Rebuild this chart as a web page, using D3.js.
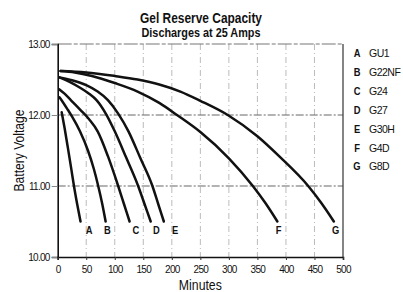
<!DOCTYPE html>
<html>
<head>
<meta charset="utf-8">
<script src="https://cdn.jsdelivr.net/npm/d3@7"></script>
<style>
  body { margin: 0; background: #fff; }
  svg { display: block; }
  text { font-family: "Liberation Sans Narrow", "Arial Narrow", "Liberation Sans", sans-serif; fill: #111; }
</style>
</head>
<body>
<svg id="chart" width="403" height="292"></svg>
<script>
// battery types, A..G
let letters = ["A", "B", "C", "D", "E", "F", "G"];
let models = ["GU1", "G22NF", "G24", "G27", "G30H", "G4D", "G8D"];

// discharge curves [minutes, volts]
let curveA = [[7, 12.04], [12, 11.82], [18, 11.53], [24, 11.23], [28.5, 11.0], [34, 10.75], [40, 10.5]];
let curveB = [[3, 12.25], [10, 12.17], [18, 12.07], [25, 11.98], [39, 11.77], [53, 11.5], [63, 11.25], [71, 11.0], [78, 10.75], [84, 10.5]];
let curveC = [[3, 12.36], [12, 12.3], [23, 12.21], [40, 12.07], [55, 11.94], [70, 11.77], [88, 11.42], [106, 11.0], [116, 10.75], [126, 10.5]];
let curveD = [[3, 12.53], [20, 12.47], [40, 12.38], [55, 12.3], [68, 12.21], [85, 12.01], [100, 11.77], [120, 11.4], [141, 11.0], [152, 10.75], [163, 10.5]];
let curveE = [[3, 12.53], [25, 12.49], [50, 12.42], [70, 12.33], [88, 12.21], [106, 12.02], [124, 11.77], [145, 11.39], [166, 11.0], [176, 10.75], [186, 10.5]];
let curveF = [[5, 12.62], [30, 12.6], [60, 12.55], [100, 12.45], [140, 12.33], [178, 12.17], [209, 12.0], [250, 11.76], [300, 11.39], [342, 11.0], [364, 10.76], [385, 10.5]];
let curveG = [[5, 12.62], [50, 12.6], [100, 12.55], [140, 12.5], [178, 12.43], [215, 12.33], [250, 12.2], [298, 12.0], [350, 11.7], [388, 11.42], [439, 11.0], [462, 10.76], [484, 10.5]];
let curves = [curveA, curveB, curveC, curveD, curveE, curveF, curveG];

// where the letter sits under each curve end (minutes)
let labelAt = [55, 87, 137, 173, 206, 387, 487];

let xTicks = [0, 50, 100, 150, 200, 250, 300, 350, 400, 450, 500];
let yTicks = [10, 11, 12, 13];

let svg = d3.select("#chart");
let margin = {top: 44, left: 57.7, right: 60, bottom: 35};
let width = 403, height = 292;

let x = d3.scaleLinear().domain([0, 500]).range([margin.left, width - margin.right]);
let y = d3.scaleLinear().domain([10, 13]).range([height - margin.bottom, margin.top]);

// grid
let grid = svg.append("g").attr("class", "grid");
grid.selectAll("line.vgrid")
    .data(xTicks.slice(1, -1))
    .enter().append("line")
    .attr("class", "vgrid")
    .attr("x1", d => x(d)).attr("x2", d => x(d))
    .attr("y1", y(13)).attr("y2", y(10))
    .attr("stroke", "#aaa")
    .attr("stroke-width", 0.8)
    .attr("stroke-dasharray", "6,3,1,3");

grid.selectAll("line.hgrid")
    .data([11, 12])
    .enter().append("line")
    .attr("class", "hgrid")
    .attr("x1", x(0)).attr("x2", x(500))
    .attr("y1", d => y(d)).attr("y2", d => y(d))
    .attr("stroke", "#666")
    .attr("stroke-width", 1)
    .attr("stroke-dasharray", "8,2,2,2");

// top edge + right edge
grid.append("line")
    .attr("x1", x(0)).attr("x2", x(500))
    .attr("y1", y(13)).attr("y2", y(13))
    .attr("stroke", "#777").attr("stroke-width", 1.2)
    .attr("stroke-dasharray", "14,2,4,2");
grid.append("line")
    .attr("x1", x(500)).attr("x2", x(500))
    .attr("y1", y(13)).attr("y2", y(10))
    .attr("stroke", "#333").attr("stroke-width", 1.2);

// axes
let yAxis = svg.append("g")
    .attr("transform", "translate(" + x(0) + ",0)")
    .call(d3.axisLeft(y).tickValues(yTicks).tickFormat(d3.format(".2f")).tickSize(6).tickPadding(2));
let xAxis = svg.append("g")
    .attr("transform", "translate(0," + y(10) + ")")
    .call(d3.axisBottom(x).tickValues(xTicks).tickSize(3).tickPadding(6));

[xAxis, yAxis].forEach(a => {
    a.select(".domain").attr("stroke", "#111").attr("stroke-width", 1.6);
    a.selectAll(".tick line").attr("stroke", "#333");
    a.selectAll("text").attr("font-size", 10).attr("fill", "#111")
        .style("font-family", "'Liberation Sans Narrow', 'Liberation Sans', sans-serif")
        .attr("letter-spacing", -0.7);
});
yAxis.selectAll(".tick line").attr("stroke", "#888");

// curves
let line = d3.line()
    .x(d => x(d[0]))
    .y(d => y(d[1]))
    .curve(d3.curveMonotoneX);

svg.append("g").selectAll("path")
    .data(curves)
    .enter().append("path")
    .attr("d", line)
    .attr("fill", "none")
    .attr("stroke", "#111")
    .attr("stroke-width", 2.5)
    .attr("stroke-linecap", "round");

// letters under curve ends
svg.append("g").selectAll("text")
    .data(letters)
    .enter().append("text")
    .attr("x", (d, i) => x(labelAt[i]))
    .attr("y", y(10.5) + 13)
    .attr("text-anchor", "middle")
    .attr("font-size", 11)
    .attr("font-weight", "bold")
    .attr("transform", (d, i) => "translate(" + x(labelAt[i]) * 0.15 + ",0) scale(0.85,1)")
    .text(d => d);

// legend on the right
let legend = svg.append("g").selectAll("g")
    .data(letters)
    .enter().append("g")
    .attr("transform", (d, i) => "translate(357," + (57 + i * 18.9) + ")");
legend.append("text")
    .attr("text-anchor", "middle")
    .attr("font-size", 11)
    .attr("font-weight", "bold")
    .attr("transform", "scale(0.85,1)")
    .text(d => d);
legend.append("text")
    .attr("x", 12)
    .attr("font-size", 10.5)
    .attr("letter-spacing", -0.5)
    .text((d, i) => models[i]);

// titles
svg.append("text")
    .attr("x", 201).attr("y", 23)
    .attr("text-anchor", "middle")
    .attr("font-size", 14.5)
    .attr("font-weight", "bold")
    .attr("textLength", 122)
    .attr("lengthAdjust", "spacingAndGlyphs")
    .text("Gel Reserve Capacity");
svg.append("text")
    .attr("x", 201).attr("y", 37)
    .attr("text-anchor", "middle")
    .attr("font-size", 13)
    .attr("font-weight", "bold")
    .attr("textLength", 119)
    .attr("lengthAdjust", "spacingAndGlyphs")
    .text("Discharges at 25 Amps");

svg.append("text")
    .attr("transform", "translate(24," + y(11.5) + ") rotate(-90)")
    .attr("text-anchor", "middle")
    .attr("font-size", 15)
    .attr("textLength", 82)
    .attr("lengthAdjust", "spacingAndGlyphs")
    .text("Battery Voltage");

svg.append("text")
    .attr("x", x(250)).attr("y", 290)
    .attr("text-anchor", "middle")
    .attr("font-size", 15.5)
    .attr("textLength", 43)
    .attr("lengthAdjust", "spacingAndGlyphs")
    .text("Minutes");
</script>
</body>
</html>
